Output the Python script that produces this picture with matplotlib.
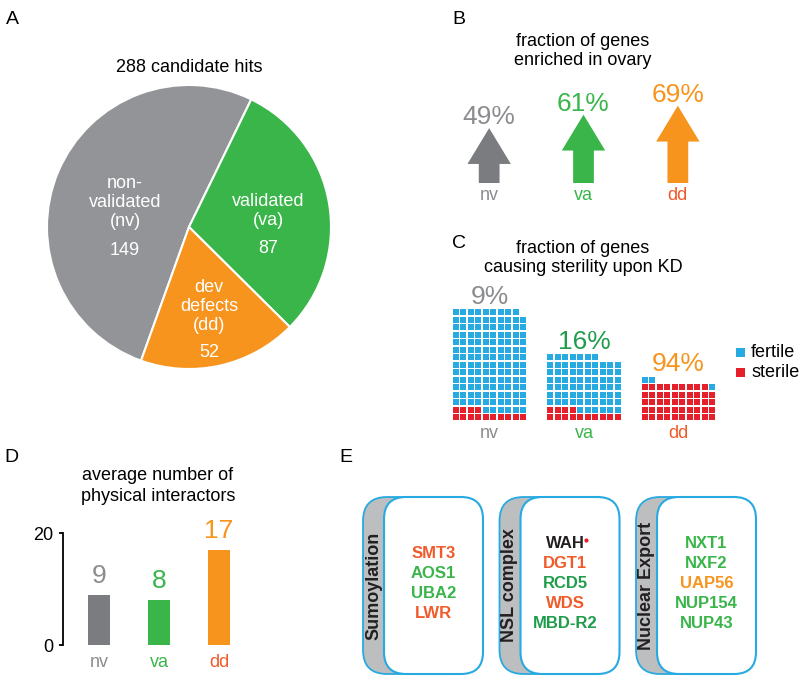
import matplotlib
matplotlib.use("Agg")
import matplotlib.pyplot as plt
from matplotlib.patches import FancyArrow, Rectangle, FancyBboxPatch

plt.rcParams['font.family'] = ['Liberation Sans', 'DejaVu Sans']

W, H = 800, 680

GRAY = '#8a8c8f'
GRAY_PIE = '#929497'
GRAY_DARK = '#7b7c7f'
GREEN = '#39b54a'
DKGREEN = '#1f9d4b'
ORANGE = '#f7941d'
REDOR = '#f15a29'
BLUE = '#27aae1'
RED = '#e5202a'
BLACK = '#231f20'

# data
groups = ['nv', 'va', 'dd']
hit_counts = [149, 87, 52]
pie_names = ['non-\nvalidated\n(nv)', 'validated\n(va)', 'dev\ndefects\n(dd)']
ovary_pct = [49, 61, 69]
sterile_counts = [14, 14, 49]
interactors = [9, 8, 17]
complex_names = ['Sumoylation', 'NSL complex', 'Nuclear Export']
complex_genes = [['SMT3', 'AOS1', 'UBA2', 'LWR'],
                 ['WAH', 'DGT1', 'RCD5', 'WDS', 'MBD-R2'],
                 ['NXT1', 'NXF2', 'UAP56', 'NUP154', 'NUP43']]
gene_colors = [[REDOR, GREEN, GREEN, REDOR],
               [BLACK, REDOR, DKGREEN, REDOR, DKGREEN],
               [GREEN, GREEN, ORANGE, GREEN, GREEN]]

label_colors = [GRAY, GREEN, REDOR]
value_colors = [GRAY, GREEN, ORANGE]

fig = plt.figure(figsize=(W / 100, H / 100), dpi=100)


def add_ax(x0, y0, x1, y1):
    ax = fig.add_axes([x0 / W, 1 - y1 / H, (x1 - x0) / W, (y1 - y0) / H])
    ax.set_axis_off()
    return ax


def ftext(x, y, s, **kw):
    kw.setdefault('ha', 'center')
    kw.setdefault('va', 'center')
    kw.setdefault('fontsize', 13)
    fig.text(x / W, 1 - y / H, s, **kw)


# panel letters
for letter, (x, y) in zip('ABCDE', [(12, 19), (459, 19), (459, 243), (11, 457), (346, 457)]):
    ftext(x, y, letter, fontsize=14)

# A: pie
axA = add_ax(47, 85, 331, 369)
start = 64 + 360 * hit_counts[0] / sum(hit_counts)
axA.pie(hit_counts, colors=[GRAY_PIE, GREEN, ORANGE], startangle=start,
        counterclock=False, wedgeprops=dict(edgecolor='white', linewidth=1.5))
axA.set_xlim(-1, 1)
axA.set_ylim(-1, 1)
axA.set_aspect('equal')
name_pos = [(-0.45, 0.17), (0.556, 0.116), (0.141, -0.563)]
num_pos = [(-0.45, -0.169), (0.556, -0.148), (0.141, -0.887)]
for name, n, (x, y), (nx, ny) in zip(pie_names, hit_counts, name_pos, num_pos):
    axA.text(x, y, name, ha='center', va='center', color='white', fontsize=13,
             linespacing=1.15)
    axA.text(nx, ny, str(n), ha='center', va='center', color='white', fontsize=13)
ftext(189, 68, f'{sum(hit_counts)} candidate hits')

# B: arrows
ftext(583, 51, 'fraction of genes\nenriched in ovary')
axB = add_ax(442, 71, 725, 183)
axB.set_xlim(-0.5, 2.5)
axB.set_ylim(0, 100)
arrow_colors = [GRAY_DARK, GREEN, ORANGE]
for i, p in enumerate(ovary_pct):
    axB.add_patch(FancyArrow(i, 0, 0, p, width=0.22, head_width=0.46, head_length=32,
                             length_includes_head=True, color=arrow_colors[i], lw=0))
    axB.annotate(f'{p}%', (i, p), xytext=(0, 3), textcoords='offset points',
                 ha='center', va='baseline', fontsize=19, color=value_colors[i])
    axB.annotate(groups[i], (i, 0), xytext=(0, -12), textcoords='offset points',
                 ha='center', va='baseline', fontsize=13, color=label_colors[i])

# C: waffle
ftext(583, 258, 'fraction of genes\ncausing sterility upon KD')
axC = add_ax(442, 290, 725, 421)
axC.set_xlim(-10 / 7.5, -10 / 7.5 + 283 / 7.5)
axC.set_ylim(0, 131 / 7.5)
pct_colors_c = [GRAY, DKGREEN, ORANGE]
for g, (n, s) in enumerate(zip(hit_counts, sterile_counts)):
    left = g * 12.6
    for k in range(n):
        row, col = divmod(k, 10)
        axC.add_patch(Rectangle((left + col + 0.1, row + 0.1), 0.8, 0.8,
                                color=RED if k < s else BLUE, lw=0))
    top = (n + 9) // 10
    axC.annotate(f'{round(100 * s / n)}%', (left + 5, top), xytext=(0, 3.5),
                 textcoords='offset points', ha='center', va='baseline',
                 fontsize=19, color=pct_colors_c[g])
    axC.annotate(groups[g], (left + 5, 0), xytext=(0, -12), textcoords='offset points',
                 ha='center', va='baseline', fontsize=13, color=label_colors[g])
for (lbl, c, y) in [('fertile', BLUE, 352), ('sterile', RED, 372)]:
    fig.add_artist(Rectangle(((736) / W, 1 - (y + 4.5) / H), 9 / W, 9 / H,
                             transform=fig.transFigure, color=c, lw=0))
    ftext(751, y, lbl, ha='left')

# D: bars
ftext(158, 486, 'average number of\nphysical interactors', linespacing=1.25)
axD = add_ax(63, 533, 243, 645)
axD.set_axis_on()
axD.bar(range(3), interactors, width=0.383, color=[GRAY_DARK, GREEN, ORANGE])
axD.set_xlim(-0.6, 2.4)
axD.set_ylim(0, 20)
for side in ['top', 'right', 'bottom']:
    axD.spines[side].set_visible(False)
axD.spines['left'].set_linewidth(1.3)
axD.set_xticks([])
axD.set_yticks([0, 20])
axD.tick_params(axis='y', length=3, width=1.3, pad=4, labelsize=13)
for i, v in enumerate(interactors):
    axD.annotate(str(v), (i, v), xytext=(0, 8.5), textcoords='offset points',
                 ha='center', va='baseline', fontsize=19, color=value_colors[i])
    axD.annotate(groups[i], (i, 0), xytext=(0, -15.5), textcoords='offset points',
                 ha='center', va='baseline', fontsize=13, color=label_colors[i])

# E: complex boxes
axE = add_ax(340, 480, 800, 680)
axE.set_xlim(340, 800)
axE.set_ylim(680, 480)
text_shift = [0, -5, 0]
for k, (name, genes, cols) in enumerate(zip(complex_names, complex_genes, gene_colors)):
    fl = 384 + k * 136.5
    axE.add_patch(FancyBboxPatch((fl - 21, 497), 80, 177,
                                 boxstyle='round,pad=0,rounding_size=24',
                                 fc='#bcbec0', ec=BLUE, lw=1.3))
    axE.add_patch(FancyBboxPatch((fl, 497), 99, 177,
                                 boxstyle='round,pad=0,rounding_size=22',
                                 fc='white', ec=BLUE, lw=1.5))
    axE.text(fl - 10.5, 585.5, name, rotation=90, ha='center', va='center',
             fontsize=13, fontweight='bold', color=BLACK)
    n = len(genes)
    cx = fl + 49.5 + text_shift[k]
    for i, (gname, c) in enumerate(zip(genes, cols)):
        axE.text(cx, 584 + (i - (n - 1) / 2) * 20, gname, ha='center', va='center',
                 fontsize=12, fontweight='bold', color=c)
        if gname == 'WAH':
            axE.plot(cx + 21, 540, 'o', ms=2, color=RED)

fig.savefig('out.png', dpi=100)
